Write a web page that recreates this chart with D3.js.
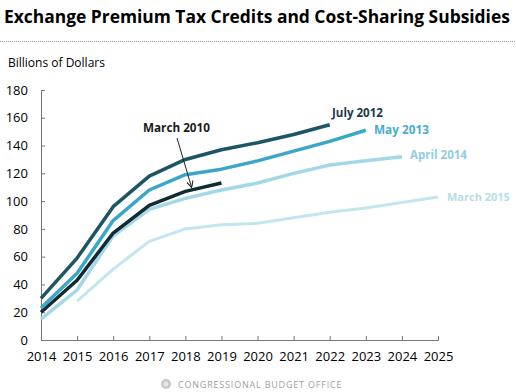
<!DOCTYPE html>
<html>
<head>
<meta charset="utf-8">
<script src="https://cdn.jsdelivr.net/npm/d3@7"></script>
<style>
  body { margin: 0; background: #fff; }
  svg { display: block; font-family: "Open Sans", sans-serif; }
</style>
</head>
<body>
<div id="chart"></div>
<script>
// Data (billions of dollars)
var years = [2014, 2015, 2016, 2017, 2018, 2019, 2020, 2021, 2022, 2023, 2024, 2025];
var yTicks = [0, 20, 40, 60, 80, 100, 120, 140, 160, 180];

var march2010 = [20, 43, 77, 97, 107, 113];
var july2012 = [30, 59, 96, 118, 130, 137, 142, 148, 155];
var may2013 = [23, 48, 86, 108, 119, 123, 129, 136, 143, 151];
var april2014 = [15, 36, 75, 94, 102, 108, 113, 120, 126, 129, 132];
var march2015 = [null, 28, 51, 71, 80, 83, 84, 88, 92, 95, 99, 103];

var W = 516, H = 392;
var margin = { top: 90, right: 78, bottom: 52, left: 41 },
    width = W - margin.left - margin.right,
    height = H - margin.top - margin.bottom;

var svg = d3.select("#chart")
  .append("svg")
  .attr("width", W)
  .attr("height", H);

// shrink a text's font until its natural width fits the wanted width
function fitText(sel, wanted, size) {
  sel.style("font-size", size + "px");
  var w = sel.node().getComputedTextLength();
  if (w > 0) sel.style("font-size", (size * wanted / w).toFixed(2) + "px");
}

// title
var title = svg.append("text")
  .attr("x", 4)
  .attr("y", 23)
  .style("font-weight", "bold")
  .style("fill", "#000")
  .text("Exchange Premium Tax Credits and Cost-Sharing Subsidies");
fitText(title, 506, 19);

svg.append("line")
  .attr("x1", 0).attr("x2", W)
  .attr("y1", 41.5).attr("y2", 41.5)
  .attr("stroke", "#999")
  .attr("stroke-dasharray", "1,1");

svg.append("text")
  .attr("x", 8)
  .attr("y", 67)
  .style("font-size", "12px")
  .style("fill", "#000")
  .text("Billions of Dollars");

var g = svg.append("g")
  .attr("transform", "translate(" + margin.left + "," + margin.top + ")");

var x = d3.scaleLinear()
  .domain([2014, 2025])
  .range([0, width]);

var y = d3.scaleLinear()
  .domain([0, 180])
  .range([height, 0]);

// axes
var yAxis = g.append("g")
  .call(d3.axisLeft(y).tickValues(yTicks).tickSize(-4).tickPadding(13));
var xAxis = g.append("g")
  .attr("transform", "translate(0," + height + ")")
  .call(d3.axisBottom(x).tickValues(years).tickFormat(d3.format("d")).tickSize(-4).tickPadding(12));

[xAxis, yAxis].forEach(function(a) {
  a.select(".domain").attr("stroke", "#777");
  a.selectAll(".tick line").attr("stroke", "#777");
  a.selectAll(".tick text")
    .style("font-family", "Open Sans, sans-serif")
    .style("font-size", "13px")
    .style("fill", "#000");
});

var line = d3.line()
  .defined(function(d) { return d != null; })
  .x(function(d, i) { return x(years[i]); })
  .y(function(d) { return y(d); });

var series = [
  { name: "March 2015", values: march2015, color: "#c3e5ef", w: 3 },
  { name: "April 2014", values: april2014, color: "#a4d7e8", w: 3.5 },
  { name: "March 2010", values: march2010, color: "#112a33", w: 3.5 },
  { name: "May 2013", values: may2013, color: "#3aa7c6", w: 3.5 },
  { name: "July 2012", values: july2012, color: "#1d5565", w: 3.5 }
];

series.forEach(function(s) {
  g.append("path")
    .datum(s.values)
    .attr("d", line)
    .attr("fill", "none")
    .attr("stroke", s.color)
    .attr("stroke-width", s.w)
    .attr("stroke-linejoin", "round");
});

// series labels
var labels = [
  { text: "July 2012", x: 332, y: 117, len: 51, color: "#1b3b4a" },
  { text: "May 2013", x: 374, y: 134, len: 55, color: "#49acce" },
  { text: "April 2014", x: 410, y: 159, len: 57, color: "#90cde2" },
  { text: "March 2015", x: 447, y: 201, len: 63, color: "#b6dde9" },
  { text: "March 2010", x: 143, y: 132, len: 67, color: "#1a1a1a" }
];
labels.forEach(function(d) {
  var t = svg.append("text")
    .attr("class", "lbl")
    .attr("x", d.x)
    .attr("y", d.y)
    .style("font-weight", "bold")
    .style("fill", d.color)
    .text(d.text);
  fitText(t, d.len, 12.5);
});

// arrow pointing at the March 2010 line
svg.append("defs").append("marker")
  .attr("id", "arrow")
  .attr("viewBox", "0 0 10 10")
  .attr("refX", 9).attr("refY", 5)
  .attr("markerWidth", 7).attr("markerHeight", 7)
  .attr("orient", "auto")
  .append("path")
  .attr("d", "M0,0 L10,5 L0,10")
  .attr("fill", "none")
  .attr("stroke", "#222")
  .attr("stroke-width", 1.5);

svg.append("line")
  .attr("x1", 177).attr("y1", 138)
  .attr("x2", 191.5).attr("y2", 187)
  .attr("stroke", "#222")
  .attr("stroke-width", 1)
  .attr("marker-end", "url(#arrow)");

// footer
var foot = svg.append("g").attr("transform", "translate(166,384)");
foot.append("circle").attr("r", 5).attr("fill", "#c8c8c8");
foot.append("circle").attr("r", 2.5).attr("fill", "#e6e6e6");
svg.append("text")
  .attr("x", 178)
  .attr("y", 387.5)
  .attr("textLength", 165)
  .style("font-size", "9px")
  .style("letter-spacing", "1.5px")
  .style("fill", "#a0a0a0")
  .text("CONGRESSIONAL BUDGET OFFICE");
</script>
</body>
</html>
